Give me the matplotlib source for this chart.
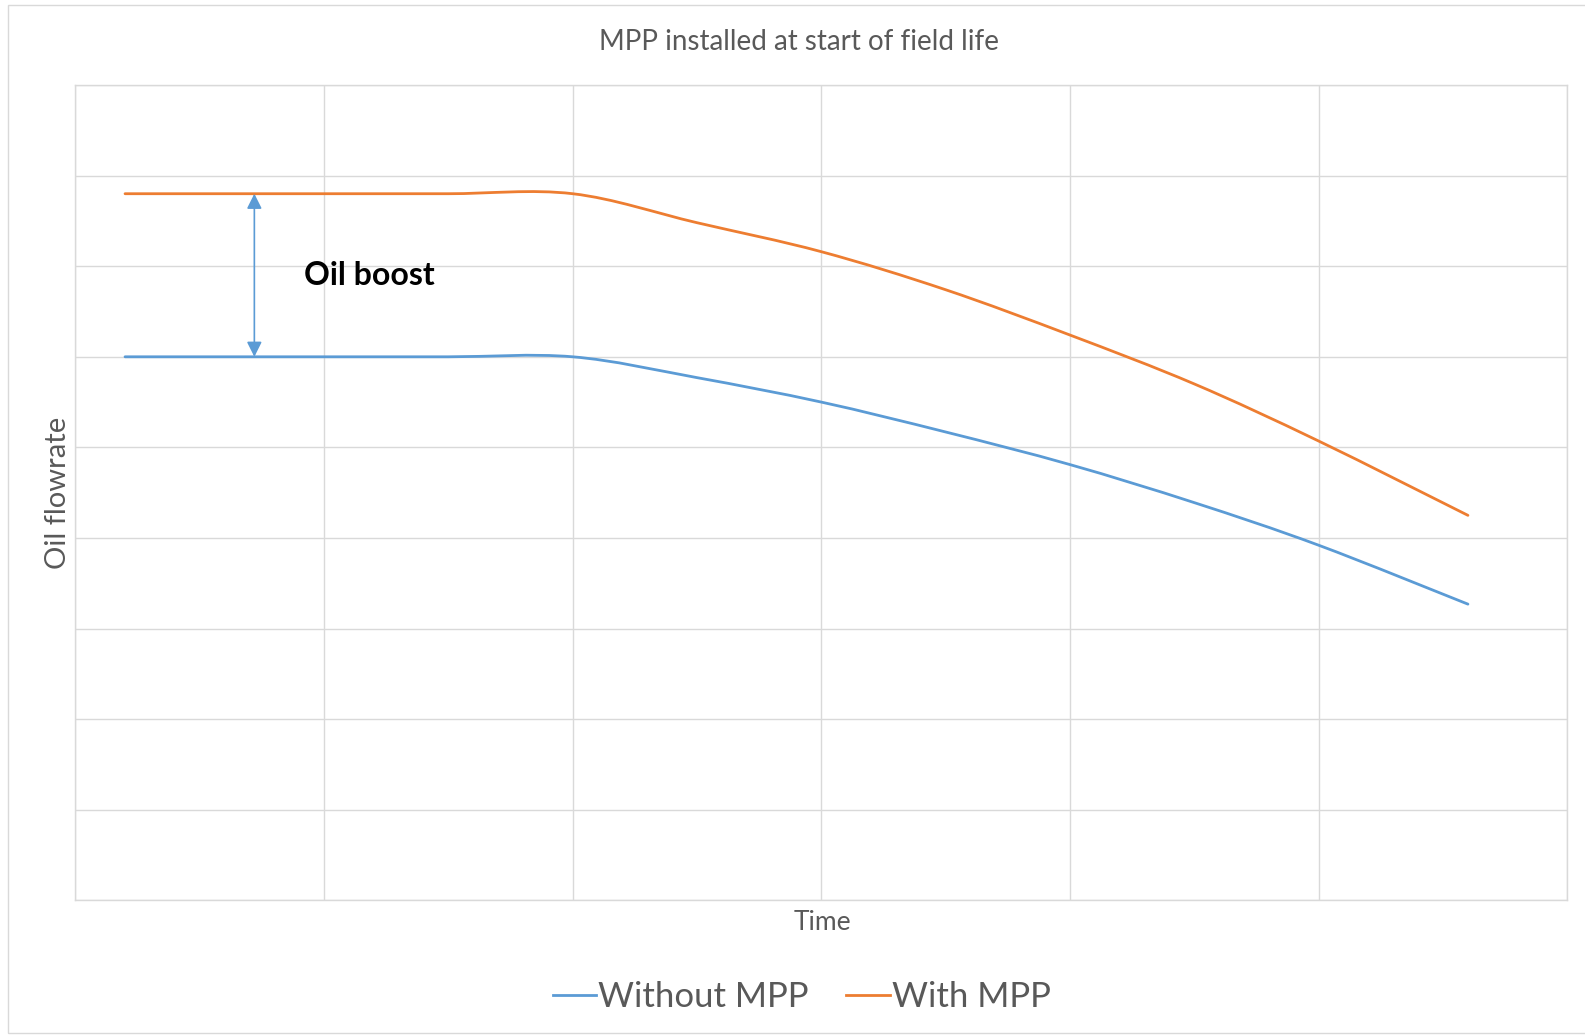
import matplotlib
matplotlib.use("Agg")
import matplotlib.pyplot as plt
from matplotlib.path import Path
from matplotlib.patches import PathPatch, Rectangle, FancyArrowPatch
from matplotlib.lines import Line2D
import numpy as np

# ---- data ----
time_pts = [0.2, 0.5, 1.0, 1.5, 2.0, 2.5, 3.0, 3.5, 4.0, 4.5, 5.0, 5.6]
without_mpp = [6.0, 6.0, 6.0, 6.0, 6.0, 5.77, 5.50, 5.17, 4.81, 4.39, 3.92, 3.27]
with_mpp = [7.8, 7.8, 7.8, 7.8, 7.8, 7.48, 7.16, 6.74, 6.24, 5.70, 5.07, 4.25]
series_names = ["Without MPP", "With MPP"]
boost_x = 0.72
title = "MPP installed at start of field life"
xlabel = "Time"
ylabel = "Oil flowrate"
annot = "Oil boost"

BLUE = "#5B9BD5"
ORANGE = "#ED7D31"
GRID = "#D9D9D9"
TXT = "#595959"
FONT = ["Lato", "DejaVu Sans"]


def smooth_path(xs, ys):
    """Excel-like smoothed line: cubic Bezier through the points."""
    pts = np.column_stack([xs, ys]).astype(float)
    n = len(pts)
    verts = [pts[0]]
    codes = [Path.MOVETO]
    for i in range(n - 1):
        p0 = pts[i - 1] if i > 0 else pts[i]
        p1 = pts[i]
        p2 = pts[i + 1]
        p3 = pts[i + 2] if i + 2 < n else pts[i + 1]
        c1 = p1 + (p2 - p0) / 6.0
        c2 = p2 - (p3 - p1) / 6.0
        verts += [c1, c2, p2]
        codes += [Path.CURVE4] * 3
    return Path(verts, codes)


fig = plt.figure(figsize=(15.85, 10.36), dpi=100)
fig.patch.set_facecolor("white")

# chart area border
fig.patches.append(Rectangle((8 / 1585, 3 / 1036), 1.2, 1 - 8 / 1036,
                             transform=fig.transFigure, fill=False,
                             edgecolor=GRID, linewidth=1.0))

ax = fig.add_axes([75.3 / 1585, 1 - 900.4 / 1036, (1567.4 - 75.3) / 1585,
                   (900.4 - 85) / 1036])
ax.set_xlim(0, 6)
ax.set_ylim(0, 9)
ax.set_xticks(np.arange(0, 7, 1))
ax.set_yticks(np.arange(0, 10, 1))
ax.tick_params(length=0, labelbottom=False, labelleft=False)
ax.grid(True, color=GRID, linewidth=1.0)
ax.set_axisbelow(True)
for s in ax.spines.values():
    s.set_color(GRID)
    s.set_linewidth(1.0)

for ys, col in [(without_mpp, BLUE), (with_mpp, ORANGE)]:
    ax.add_patch(PathPatch(smooth_path(time_pts, ys), facecolor="none",
                           edgecolor=col, linewidth=2.0, capstyle="round"))

# oil boost arrow
arr = FancyArrowPatch((boost_x, with_mpp[0]), (boost_x, without_mpp[0]),
                      arrowstyle="<|-|>,head_length=6,head_width=3",
                      color=BLUE, linewidth=1.2, shrinkA=0, shrinkB=0,
                      mutation_scale=1.5)
ax.add_patch(arr)
ax.text(0.92, 6.9, annot, fontsize=23, fontweight="bold", color="black",
        family=FONT, va="center", ha="left")

fig.text(0.5038, 1 - 42 / 1036, title, ha="center", va="center",
         fontsize=20, color=TXT, family=FONT)
fig.text(814 * 1.0108 / 1585, 1 - 922 / 1036, xlabel, ha="center",
         va="center", fontsize=19, color=TXT, family=FONT)
fig.text(57.5 / 1585, 1 - 493 / 1036, ylabel, ha="center", va="center",
         rotation=90, fontsize=21, color=TXT, family=FONT)

handles = [Line2D([], [], color=BLUE, linewidth=2.0),
           Line2D([], [], color=ORANGE, linewidth=2.0)]
leg = fig.legend(handles, series_names, loc="center",
                 bbox_to_anchor=(0.5057, 1 - 997 / 1036), ncol=2, frameon=False,
                 prop={"family": FONT, "size": 25}, handlelength=1.25,
                 handletextpad=0.05, columnspacing=1.1)
for t in leg.get_texts():
    t.set_color(TXT)

fig.savefig("out.png", dpi=100, facecolor="white")
